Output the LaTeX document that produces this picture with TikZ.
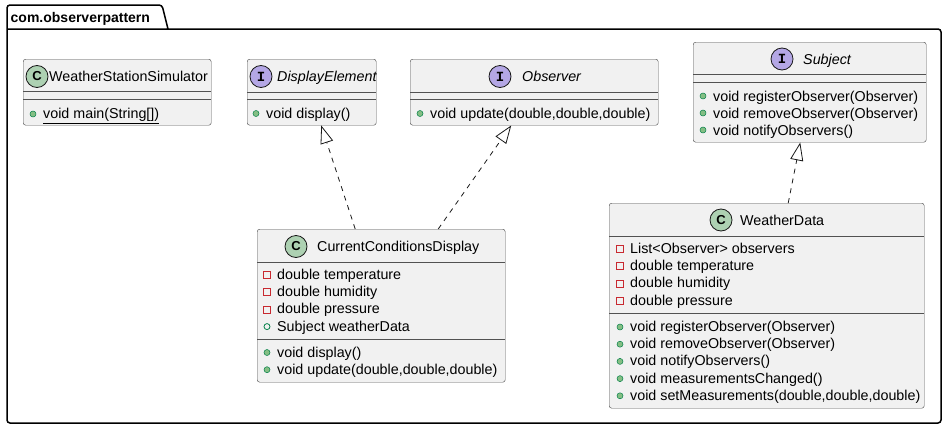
\documentclass[tikz,border=0pt]{standalone}
\usepackage{fontspec}
\setmainfont{Liberation Sans}
\newfontfamily\iconfont{Liberation Mono}
\usepackage{xcolor}
\usetikzlibrary{arrows.meta}

\definecolor{umlfill}{HTML}{F1F1F1}
\definecolor{umlline}{HTML}{181818}
\definecolor{classgreen}{HTML}{ADD1B2}
\definecolor{ifacepurple}{HTML}{B4A7E5}
\definecolor{privred}{HTML}{C82930}
\definecolor{pubdark}{HTML}{038048}
\definecolor{publight}{HTML}{84BE84}

\begin{document}
\begin{tikzpicture}[x=1pt, y=-1pt,
  font=\fontsize{14.3}{17}\selectfont,
  pkg/.style={draw=black, line width=1.5pt, rounded corners=3pt},
  classbox/.style={draw=umlline!75, fill=umlfill, line width=0.45pt, rounded corners=2.5pt,
                   inner sep=0pt, anchor=north west},
  sepline/.style={draw=umlline!75, line width=0.45pt},
  cicon/.style={circle, draw=umlline, line width=0.8pt, fill=classgreen, minimum size=22pt,
                inner sep=0pt, font=\fontsize{13}{13}\selectfont\bfseries},
  iicon/.style={cicon, fill=ifacepurple, font=\fontsize{14}{14}\selectfont\iconfont\bfseries},
  cname/.style={anchor=base west, inner sep=0pt},
  member/.style={anchor=base west, inner sep=0pt},
  pubm/.style={circle, draw=pubdark, fill=publight, line width=0.5pt, minimum size=6pt, inner sep=0pt},
  pubf/.style={circle, draw=pubdark, line width=0.8pt, minimum size=6pt, inner sep=0pt},
  privf/.style={rectangle, draw=privred, line width=0.8pt, minimum size=7pt, inner sep=0pt},
  realize/.style={draw=umlline, line width=0.8pt, dash pattern=on 5pt off 5pt,
                  -{Triangle[length=18pt, width=13pt, fill=white]}}
]
\useasboundingbox (0,0) rectangle (947,431);

%% ---- package frame ----
\draw[pkg] (7,29) -- (941,29) -- (941,423) -- (7,423) -- (7,5) -- (162,5) -- (168,29);
\node[anchor=base west, inner sep=0pt, font=\fontsize{14}{17}\selectfont\bfseries]
  (pkgname) at (10.5,22) {com.observerpattern};

%% ---- WeatherStationSimulator ----
\node[classbox, minimum width=188pt, minimum height=66pt] (sim) at (23,59) {};
\node[cicon] (simicon) at (37,76.5) {C};
\node[cname] (simname) at (49,81.5) {WeatherStationSimulator};
\draw[sepline] (sim.west |- 0,91) -- (sim.east |- 0,91);
\draw[sepline] (sim.west |- 0,99) -- (sim.east |- 0,99);
\node[pubm] (simm1) at (33,114) {};
\node[member] (simt1) at (43,118.5) {\underline{void main(String[])}};

%% ---- DisplayElement ----
\node[classbox, minimum width=129pt, minimum height=66pt] (de) at (247,59) {};
\node[iicon] (deicon) at (261,76.5) {I};
\node[cname] (dename) at (277,81) {\itshape DisplayElement};
\draw[sepline] (de.west |- 0,92) -- (de.east |- 0,92);
\draw[sepline] (de.west |- 0,99) -- (de.east |- 0,99);
\node[pubm] (dem1) at (256,113.5) {};
\node[member] (det1) at (266,118) {void display()};

%% ---- Observer ----
\node[classbox, minimum width=248pt, minimum height=66pt] (obs) at (410,59) {};
\node[iicon] (obsicon) at (500,76.5) {I};
\node[cname] (obsname) at (522,81) {\itshape Observer};
\draw[sepline] (obs.west |- 0,92) -- (obs.east |- 0,92);
\draw[sepline] (obs.west |- 0,99) -- (obs.east |- 0,99);
\node[pubm] (obsm1) at (420,113.5) {};
\node[member] (obst1) at (430,118) {void update(double,double,double)};

%% ---- Subject ----
\node[classbox, minimum width=233pt, minimum height=100pt] (subj) at (693,42) {};
\node[iicon] (subjicon) at (782,59) {I};
\node[cname] (subjname) at (803,64) {\itshape Subject};
\draw[sepline] (subj.west |- 0,74) -- (subj.east |- 0,74);
\draw[sepline] (subj.west |- 0,82) -- (subj.east |- 0,82);
\node[pubm] (subjm1) at (703,96) {};
\node[member] (subjt1) at (713,101) {void registerObserver(Observer)};
\node[pubm] (subjm2) at (703,113) {};
\node[member] (subjt2) at (713,118) {void removeObserver(Observer)};
\node[pubm] (subjm3) at (703,130) {};
\node[member] (subjt3) at (713,135) {void notifyObservers()};

%% ---- CurrentConditionsDisplay ----
\node[classbox, minimum width=248pt, minimum height=153pt] (ccd) at (257,229) {};
\node[cicon] (ccdicon) at (296,246.5) {C};
\node[cname] (ccdname) at (317,251.5) {CurrentConditionsDisplay};
\draw[sepline] (ccd.west |- 0,262) -- (ccd.east |- 0,262);
\node[privf] (ccdf1) at (267,275) {};
\node[member] (ccdt1) at (277,279.5) {double temperature};
\node[privf] (ccdf2) at (267,292.2) {};
\node[member] (ccdt2) at (277,296.7) {double humidity};
\node[privf] (ccdf3) at (267,309.4) {};
\node[member] (ccdt3) at (277,313.9) {double pressure};
\node[pubf] (ccdf4) at (267,326.6) {};
\node[member] (ccdt4) at (277,331.1) {Subject weatherData};
\draw[sepline] (ccd.west |- 0,339) -- (ccd.east |- 0,339);
\node[pubm] (ccdm1) at (267,352.5) {};
\node[member] (ccdt5) at (277,357) {void display()};
\node[pubm] (ccdm2) at (267,369.7) {};
\node[member] (ccdt6) at (277,374.2) {void update(double,double,double)};

%% ---- WeatherData ----
\node[classbox, minimum width=315pt, minimum height=205pt] (wd) at (609,203) {};
\node[cicon] (wdicon) at (721,220) {C};
\node[cname] (wdname) at (740,225) {WeatherData};
\draw[sepline] (wd.west |- 0,236) -- (wd.east |- 0,236);
\node[privf] (wdf1) at (620,249) {};
\node[member] (wdt1) at (630,253.5) {List<Observer> observers};
\node[privf] (wdf2) at (620,266.2) {};
\node[member] (wdt2) at (630,270.7) {double temperature};
\node[privf] (wdf3) at (620,283.4) {};
\node[member] (wdt3) at (630,287.9) {double humidity};
\node[privf] (wdf4) at (620,300.6) {};
\node[member] (wdt4) at (630,305.1) {double pressure};
\draw[sepline] (wd.west |- 0,313) -- (wd.east |- 0,313);
\node[pubm] (wdm1) at (620,327) {};
\node[member] (wdt5) at (630,331.5) {void registerObserver(Observer)};
\node[pubm] (wdm2) at (620,344.2) {};
\node[member] (wdt6) at (630,348.7) {void removeObserver(Observer)};
\node[pubm] (wdm3) at (620,361.4) {};
\node[member] (wdt7) at (630,365.9) {void notifyObservers()};
\node[pubm] (wdm4) at (620,378.6) {};
\node[member] (wdt8) at (630,383.1) {void measurementsChanged()};
\node[pubm] (wdm5) at (620,395.8) {};
\node[member] (wdt9) at (630,400.3) {void setMeasurements(double,double,double)};

%% ---- realizations ----
\draw[realize] ([xshift=-26pt]ccd.north) -- ([xshift=9.5pt]de.south);
\draw[realize] ([xshift=57pt]ccd.north) -- ([xshift=-23pt]obs.south);
\draw[realize] ([xshift=21.5pt]wd.north) -- ([xshift=-9.5pt]subj.south);
\end{tikzpicture}
\end{document}
